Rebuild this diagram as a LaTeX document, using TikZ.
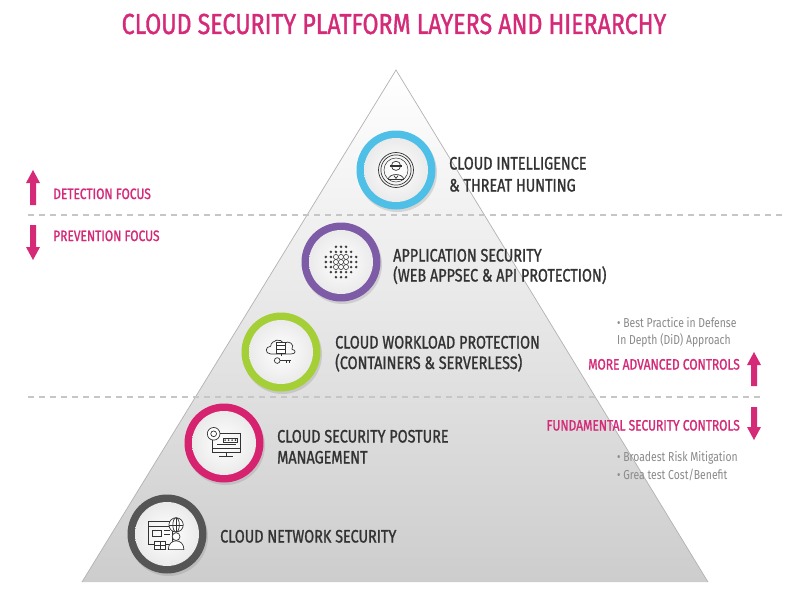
\documentclass[tikz,border=0pt]{standalone}
\usepackage{fontspec}
\usetikzlibrary{shadows}
\newfontfamily\cond[FakeStretch=0.8,FakeBold=1.2]{Fira Sans}
\newfontfamily\condl[FakeStretch=0.8]{Fira Sans}
\definecolor{pinkc}{HTML}{D42A78}
\definecolor{txt}{HTML}{333333}
\definecolor{graytxt}{HTML}{8A8A8A}
\definecolor{cblue}{HTML}{4EBFE6}
\definecolor{cpurple}{HTML}{7D5BA6}
\definecolor{cgreen}{HTML}{A5CF36}
\definecolor{cmag}{HTML}{D7226F}
\definecolor{cdark}{HTML}{555555}
\definecolor{pyrbot}{HTML}{CDCDCD}
\definecolor{pyrmid}{HTML}{EAEAEA}
\tikzset{
  ringnode/.style={circle, minimum size=79pt, inner sep=0pt, fill=#1,
    drop shadow={opacity=0.25, shadow xshift=1.5pt, shadow yshift=-2.5pt},
    path picture={\shade[inner color=white, outer color=gray!20]
      (path picture bounding box.center) circle (32pt);}},
  lbl/.style={anchor=base west, inner sep=0pt, text=txt, font=\cond\fontsize{18}{20}\selectfont},
  focus/.style={inner sep=0pt, text=pinkc, font=\cond\fontsize{15}{17}\selectfont},
  ctrl/.style={inner sep=0pt, text=pinkc, font=\cond\fontsize{15}{18}\selectfont},
  note/.style={anchor=base west, inner sep=0pt, text=graytxt, font=\condl\fontsize{13}{14}\selectfont},
  dashline/.style={draw=gray!45, line width=1.1pt, dash pattern=on 6pt off 5pt},
  ic/.style={draw=black!80, line width=0.7pt},
  arrowfill/.style={fill=pinkc}
}
\begin{document}
\begin{tikzpicture}[x=1pt,y=-1pt]
\useasboundingbox[fill=white] (0,0) rectangle (796,602);

% title
\node[anchor=base, inner sep=0pt, text=pinkc, font=\cond\fontsize{29}{30}\selectfont] (title) at (394,34) {CLOUD SECURITY PLATFORM LAYERS AND HIERARCHY};

% pyramid
\coordinate (apex) at (396,70);
\coordinate (bl) at (82,582);
\coordinate (br) at (708,582);
\shade[top color=white, middle color=pyrmid, bottom color=pyrbot] (apex) -- (br) -- (bl) -- cycle;
\draw[gray!60, line width=0.7pt] (bl) -- (apex) -- (br);

% dashed lines
\coordinate (d1a) at (28,215); \coordinate (d1b) at (786,215);
\coordinate (d2a) at (28,397); \coordinate (d2b) at (762,397);
\draw[dashline] (d1a) -- (d1b);
\draw[dashline] (d2a) -- (d2b);

% rings
\node[ringnode=cblue] (c1) at (396,170) {};
\node[ringnode=cpurple] (c2) at (341,262) {};
\node[ringnode=cgreen] (c3) at (281,352) {};
\node[ringnode=cmag] (c4) at (224,443) {};
\node[ringnode=cdark] (c5) at (167,534) {};

% icon 1: threat hunting
\begin{scope}[shift={(c1.center)}, scale=1.4]
  \draw[ic] (0,0) circle (12.5);
  \draw[ic] (0,0) circle (10.8);
  \draw[ic, line width=0.5pt] (0,0) circle (8.6);
  \draw[ic] (0,-3) circle (3.3);
  \fill[black!80] (-4.2,-3.6) rectangle (4.2,-2.2);
  \draw[ic] (-5.5,7) .. controls (-5.5,2) and (5.5,2) .. (5.5,7);
  \draw[ic] (-5.5,7) -- (5.5,7);
  \draw[ic] (-1.5,4) -- (0,6) -- (1.5,4);
\end{scope}

% icon 2: application security dot grid
\begin{scope}[shift={(c2.center)}, scale=1.1]
  \foreach \i in {-3,...,3}{
    \foreach \j in {-3,...,3}{
      \pgfmathtruncatemacro\dd{abs(\i)+abs(\j)}
      \pgfmathtruncatemacro\mm{max(abs(\i),abs(\j))}
      \ifnum\dd<5
        \ifnum\mm<2
          \draw[black!75, line width=0.6pt] (4.6*\i,4.6*\j) circle (2.3);
        \else
          \fill[black!75] (4.6*\i,4.6*\j) circle (1.3);
        \fi
      \fi
    }
  }
\end{scope}

% icon 3: cloud workload
\begin{scope}[shift={(c3.center)}, scale=0.95]
  \draw[ic] (-11,2) .. controls (-17,2) and (-17,-6) .. (-11,-6)
    .. controls (-10,-13) and (0,-15) .. (3,-9)
    .. controls (8,-13) and (15,-8) .. (11.5,-3)
    .. controls (16,-2) and (16,2) .. (11,2) -- cycle;
  \draw[ic, fill=white] (-5,-10) rectangle (5,1);
  \draw[ic] (-5,-6.5) -- (5,-6.5);
  \draw[ic] (-5,-3) -- (5,-3);
  \draw[ic] (0,1) -- (0,4);
  \draw[ic] (-4,9) circle (3);
  \draw[ic] (-1,9) -- (10,9);
  \draw[ic] (6,9) -- (6,11.5);
  \draw[ic] (9,9) -- (9,11.5);
\end{scope}

% icon 4: posture management
\begin{scope}[shift={(c4.center)}, scale=1.15]
  \draw[ic] (-10,-8) rectangle (14,8);
  \draw[ic] (-10,5) -- (14,5);
  \draw[ic] (2,8) -- (2,11);
  \draw[ic] (-4,11.5) -- (8,11.5);
  \draw[ic, fill=white] (-9,-8) circle (5.5);
  \draw[ic] (-9,-8) circle (2.5);
  \draw[ic] (-1,-4) rectangle (12,-1);
  \foreach \k in {1,4,7,10} \fill[black!80] (\k,-2.5) circle (0.8);
  \draw[ic] (-6,1.5) -- (10,1.5);
\end{scope}

% icon 5: network security
\begin{scope}[shift={(c5.center)}, scale=1.3]
  \draw[ic] (-14,-10) rectangle (4,8);
  \draw[ic] (-14,-6) -- (4,-6);
  \draw[ic] (-11,-3) rectangle (-4,2);
  \draw[ic] (-2,-3) -- (2,-3);
  \draw[ic] (-2,0) -- (2,0);
  \draw[ic, fill=white] (7,-7) circle (5.5);
  \draw[ic] (7,-12.5) -- (7,-1.5);
  \draw[ic] (1.5,-7) -- (12.5,-7);
  \draw[ic] (7,-7) ellipse (2.5 and 5.5);
  \draw[ic, fill=white] (1,12) .. controls (1,3) and (13,3) .. (13,12) -- cycle;
  \draw[ic, fill=white] (7,2) circle (3);
  \draw[ic, fill=white] (-10,6) rectangle (-1,12);
  \draw[ic] (-10,9) -- (-1,9);
  \draw[ic] (-5.5,6) -- (-5.5,12);
\end{scope}

% labels
\node[lbl] (t1a) at (449,169.5) {CLOUD INTELLIGENCE};
\node[lbl] (t1b) at (449,191.5) {\& THREAT HUNTING};
\node[lbl] (t2a) at (393,261.5) {APPLICATION SECURITY};
\node[lbl] (t2b) at (393,281.5) {(WEB APPSEC \& API PROTECTION)};
\node[lbl] (t3a) at (335,348.5) {CLOUD WORKLOAD PROTECTION};
\node[lbl] (t3b) at (335,369) {(CONTAINERS \& SERVERLESS)};
\node[lbl] (t4a) at (277,442.5) {CLOUD SECURITY POSTURE};
\node[lbl] (t4b) at (277,463.5) {MANAGEMENT};
\node[lbl] (t5a) at (220,542.5) {CLOUD NETWORK SECURITY};

% left focus
\node[focus, anchor=base west] (det) at (53,199) {DETECTION FOCUS};
\node[focus, anchor=base west] (prev) at (53,241) {PREVENTION FOCUS};
\fill[arrowfill] (33,170) -- (40,183) -- (36,183) -- (36,205) -- (30,205) -- (30,183) -- (26,183) -- cycle;
\fill[arrowfill] (33,260) -- (40,247) -- (36,247) -- (36,225) -- (30,225) -- (30,247) -- (26,247) -- cycle;

% right side
\node[note] (n1) at (617,327) {\textbullet\ Best Practice in Defense};
\node[note] (n2) at (617,344) {In Depth (DiD) Approach};
\node[ctrl, anchor=base east] (adv) at (740,369.5) {MORE ADVANCED CONTROLS};
\node[ctrl, anchor=base east] (fund) at (740,430.5) {FUNDAMENTAL SECURITY CONTROLS};
\node[note] (n3) at (617,461) {\textbullet\ Broadest Risk Mitigation};
\node[note] (n4) at (617,479) {\textbullet\ Grea test Cost/Benefit};
\fill[arrowfill] (754,352) -- (761,365) -- (757,365) -- (757,386) -- (751,386) -- (751,365) -- (747,365) -- cycle;
\fill[arrowfill] (754,440) -- (761,427) -- (757,427) -- (757,407) -- (751,407) -- (751,427) -- (747,427) -- cycle;
\end{tikzpicture}
\end{document}
